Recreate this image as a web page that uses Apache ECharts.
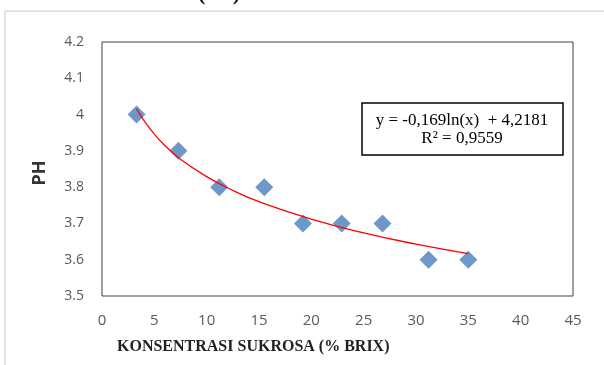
<!DOCTYPE html>
<html>
<head>
<meta charset="utf-8">
<script src="https://cdn.jsdelivr.net/npm/echarts@6/dist/echarts.min.js"></script>
<style>
  html, body { margin: 0; padding: 0; background: #fff; }
  #chart { width: 604px; height: 365px; }
</style>
</head>
<body>
<div id="chart"></div>
<script>
// measured points (x = % brix, y = pH)
const brix = [3.3, 7.3, 11.2, 15.5, 19.2, 22.9, 26.8, 31.2, 35];
const ph = [4.0, 3.9, 3.8, 3.8, 3.7, 3.7, 3.7, 3.6, 3.6];

// log trendline
const trendX = [3.3, 4, 5, 6, 7.5, 10, 12.5, 15, 20, 25, 30, 35];
const trendY = [4.016, 3.984, 3.946, 3.915, 3.877, 3.829, 3.791, 3.760, 3.712, 3.674, 3.643, 3.617];

const xTicks = [0, 45, 5];
const yTicks = [3.5, 4.2, 0.1];

const chart = echarts.init(document.getElementById("chart"));

chart.setOption({
  animation: false,
  grid: { left: 102, right: 31, top: 42, bottom: 69 },
  xAxis: {
    type: "value",
    min: xTicks[0],
    max: xTicks[1],
    interval: xTicks[2],
    axisLine: { show: false },
    axisTick: { show: false },
    splitLine: { show: false },
    axisLabel: { color: "#595959", fontSize: 15, fontFamily: "Open Sans", margin: 17 }
  },
  yAxis: {
    type: "value",
    min: yTicks[0],
    max: yTicks[1],
    interval: yTicks[2],
    axisLine: { show: false },
    axisTick: { show: false },
    splitLine: { show: false },
    axisLabel: { color: "#595959", fontSize: 14, fontFamily: "Open Sans", margin: 18 }
  },
  graphic: [
    // outer figure border pieces
    { type: "line", shape: { x1: 5, y1: 11, x2: 604, y2: 11 }, style: { stroke: "#e3e3e3", lineWidth: 2 } },
    { type: "line", shape: { x1: 5, y1: 11, x2: 5, y2: 365 }, style: { stroke: "#e3e3e3", lineWidth: 2 } },
    // cut-off caption
    {
      type: "text", left: 198, top: -17,
      style: { text: "(2.a)", font: "bold 22px 'Liberation Serif'", fill: "#111" }
    },
    // plot frame
    {
      type: "rect", shape: { x: 102, y: 42, width: 471, height: 254 },
      style: { fill: "none", stroke: "#404040", lineWidth: 1 }, z: 10
    },
    // equation box
    {
      type: "rect", shape: { x: 362, y: 103, width: 201, height: 52 },
      style: { fill: "#fff", stroke: "#000", lineWidth: 1.5 }, z: 20
    },
    {
      type: "text", x: 462, y: 121, z: 21,
      style: {
        text: "y = -0,169ln(x)  + 4,2181",
        font: "17px 'Liberation Serif'", fill: "#000",
        align: "center", verticalAlign: "middle"
      }
    },
    {
      type: "text", x: 462, y: 139, z: 21,
      style: {
        text: "R² = 0,9559",
        font: "17px 'Liberation Serif'", fill: "#000",
        align: "center", verticalAlign: "middle"
      }
    },
    // axis titles
    {
      type: "text", left: 117, top: 339,
      style: { text: "KONSENTRASI SUKROSA (% BRIX)", font: "bold 16px 'Liberation Serif'", fill: "#222" }
    },
    {
      type: "text", x: 40, y: 173, rotation: Math.PI / 2,
      style: {
        text: "PH", font: "bold 18px 'Open Sans'", fill: "#333",
        align: "center", verticalAlign: "middle"
      }
    }
  ],
  series: [
    {
      type: "line",
      data: trendX.map((x, i) => [x, trendY[i]]),
      smooth: true,
      showSymbol: false,
      lineStyle: { color: "#ff0000", width: 1.3 },
      z: 3
    },
    {
      type: "scatter",
      data: brix.map((x, i) => [x, ph[i]]),
      symbol: "diamond",
      symbolSize: 18,
      itemStyle: { color: "#4a7ebb" },
      z: 2
    }
  ]
});
</script>
</body>
</html>
